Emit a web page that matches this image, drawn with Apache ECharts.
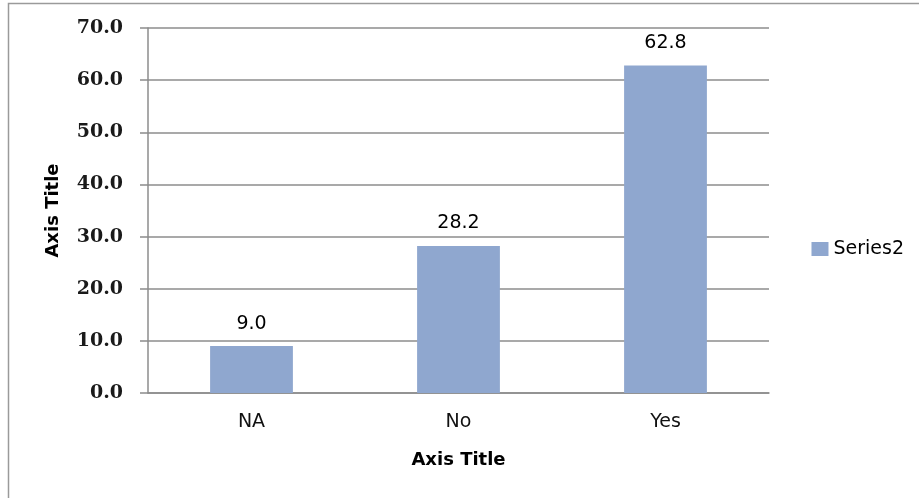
<!DOCTYPE html>
<html>
<head>
<meta charset="utf-8">
<script src="https://cdn.jsdelivr.net/npm/echarts@6/dist/echarts.min.js"></script>
<style>
  html, body { margin: 0; padding: 0; background: #fff; }
  #chart { width: 919px; height: 498px; }
</style>
</head>
<body>
<div id="chart"></div>
<script>
// Answer categories and their shares
const categories = ['NA', 'No', 'Yes'];
const series2 = [9.0, 28.2, 62.8];
const yTicks = [0, 10, 20, 30, 40, 50, 60, 70];

const chart = echarts.init(document.getElementById('chart'));

chart.setOption({
  backgroundColor: '#ffffff',
  animation: false,
  graphic: [
    {
      // chart-area frame (top and left edges)
      type: 'polyline',
      shape: { points: [[8.5, 498], [8.5, 3.5], [919, 3.5]] },
      style: { stroke: '#9a9a9a', lineWidth: 1.5, fill: null }
    }
  ],
  grid: { left: 148, right: 150, top: 28, bottom: 105 },
  legend: {
    right: 10,
    top: 'middle',
    orient: 'vertical',
    itemWidth: 17,
    itemHeight: 14,
    itemGap: 6,
    icon: 'rect',
    textStyle: { fontFamily: 'DejaVu Sans', fontSize: 19, color: '#000' },
    data: ['Series2']
  },
  xAxis: {
    type: 'category',
    data: categories,
    name: 'Axis Title',
    nameLocation: 'middle',
    nameGap: 58,
    nameTextStyle: { fontFamily: 'DejaVu Sans', fontWeight: 'bold', fontSize: 18, color: '#000' },
    axisLine: { lineStyle: { color: '#8c8c8c', width: 1.5 } },
    axisTick: { show: false },
    axisLabel: { fontFamily: 'DejaVu Sans', fontSize: 19, color: '#111', margin: 20 }
  },
  yAxis: {
    type: 'value',
    min: yTicks[0],
    max: yTicks[yTicks.length - 1],
    interval: 10,
    name: 'Axis Title',
    nameLocation: 'middle',
    nameGap: 86,
    nameRotate: 90,
    nameTextStyle: { fontFamily: 'DejaVu Sans', fontWeight: 'bold', fontSize: 18, color: '#000' },
    axisLine: { show: true, lineStyle: { color: '#8c8c8c', width: 1.5 } },
    axisTick: { show: true, length: 8, lineStyle: { color: '#8c8c8c', width: 1.5 } },
    splitLine: { show: true, lineStyle: { color: '#8c8c8c', width: 1.5 } },
    axisLabel: {
      fontFamily: 'DejaVu Serif',
      fontWeight: 'bold',
      fontSize: 19,
      color: '#1a1a1a',
      margin: 25,
      formatter: v => v.toFixed(1)
    }
  },
  series: [
    {
      name: 'Series2',
      type: 'bar',
      data: series2,
      barCategoryGap: '60%',
      itemStyle: { color: '#8fa7cf' },
      label: {
        show: true,
        position: 'top',
        distance: 13,
        fontFamily: 'DejaVu Sans',
        fontSize: 19,
        color: '#000',
        formatter: p => p.value.toFixed(1)
      }
    }
  ]
});
</script>
</body>
</html>
